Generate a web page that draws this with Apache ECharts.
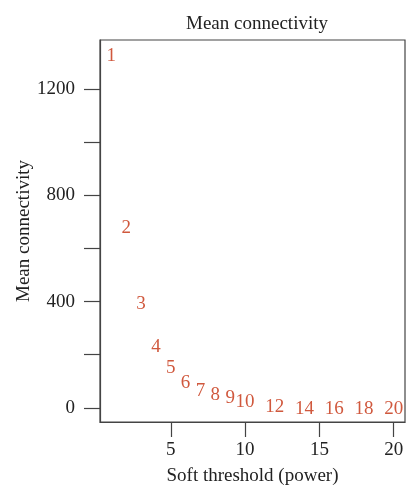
<!DOCTYPE html>
<html>
<head>
<meta charset="utf-8">
<script src="https://cdn.jsdelivr.net/npm/echarts@6/dist/echarts.min.js"></script>
<style>html,body{margin:0;padding:0;background:#fff}#c{width:420px;height:500px}</style>
</head>
<body>
<div id="c"></div>
<script>
const titleText = "Mean connectivity";
const xName = "Soft threshold (power)";
const yName = "Mean connectivity";
const powers = [1, 2, 3, 4, 5, 6, 7, 8, 9, 10, 12, 14, 16, 18, 20];
const meanK = [1330, 685, 399, 238, 158, 102, 70, 57, 43, 30, 10, 5, 3, 2, 1.6];
const xTicks = [5, 10, 15, 20];
const yTicks = [0, 200, 400, 600, 800, 1000, 1200];
const yLabels = [0, 400, 800, 1200];

const FONT = "Liberation Serif";
const AX = "#444";
const RED = "#c42e0c";

const chart = echarts.init(document.getElementById('c'), null, {renderer: 'canvas'});
chart.setOption({
  backgroundColor: '#fff',
  animation: false,
  title: {
    text: titleText, left: 252, top: 10, textAlign: 'center',
    textStyle: {fontFamily: FONT, fontSize: 19, fontWeight: 'normal', color: '#222'}
  },
  grid: {left: 100, right: 15, top: 40, bottom: 78, show: true, borderColor: AX, borderWidth: 1.2, backgroundColor: 'transparent'},
  xAxis: {
    type: 'value', min: 0.24, max: 20.76,
    name: xName, nameLocation: 'middle', nameGap: 45,
    nameTextStyle: {fontFamily: FONT, fontSize: 19, color: '#222'},
    axisLine: {show: true, onZero: false, lineStyle: {color: AX, width: 1.2}},
    axisTick: {show: true, length: 15, customValues: xTicks, lineStyle: {color: AX, width: 1.2}},
    axisLabel: {customValues: xTicks, formatter: v => String(v), fontFamily: FONT, fontSize: 19, color: '#222', margin: 19},
    splitLine: {show: false}
  },
  yAxis: {
    type: 'value', min: -53, max: 1384,
    name: yName, nameLocation: 'middle', nameGap: 76, nameRotate: 90, nameMoveOverlap: false,
    nameTextStyle: {fontFamily: FONT, fontSize: 19, color: '#222', align: 'center', verticalAlign: 'middle'},
    axisLine: {show: true, onZero: false, lineStyle: {color: AX, width: 1.2}},
    axisTick: {show: true, length: 16, customValues: yTicks, lineStyle: {color: AX, width: 1.2}},
    axisLabel: {customValues: yLabels, formatter: v => String(v), fontFamily: FONT, fontSize: 19, color: '#222', margin: 25},
    splitLine: {show: false}
  },
  series: [{
    type: 'scatter',
    data: powers.map((p, i) => [p, meanK[i]]),
    symbol: 'circle', symbolSize: 2,
    itemStyle: {color: 'rgba(0,0,0,0)'},
    label: {
      show: true, position: 'inside', offset: [0, 2],
      formatter: p => String(p.value[0]),
      fontFamily: FONT, fontSize: 19, color: RED
    }
  }]
});
</script>
</body>
</html>
